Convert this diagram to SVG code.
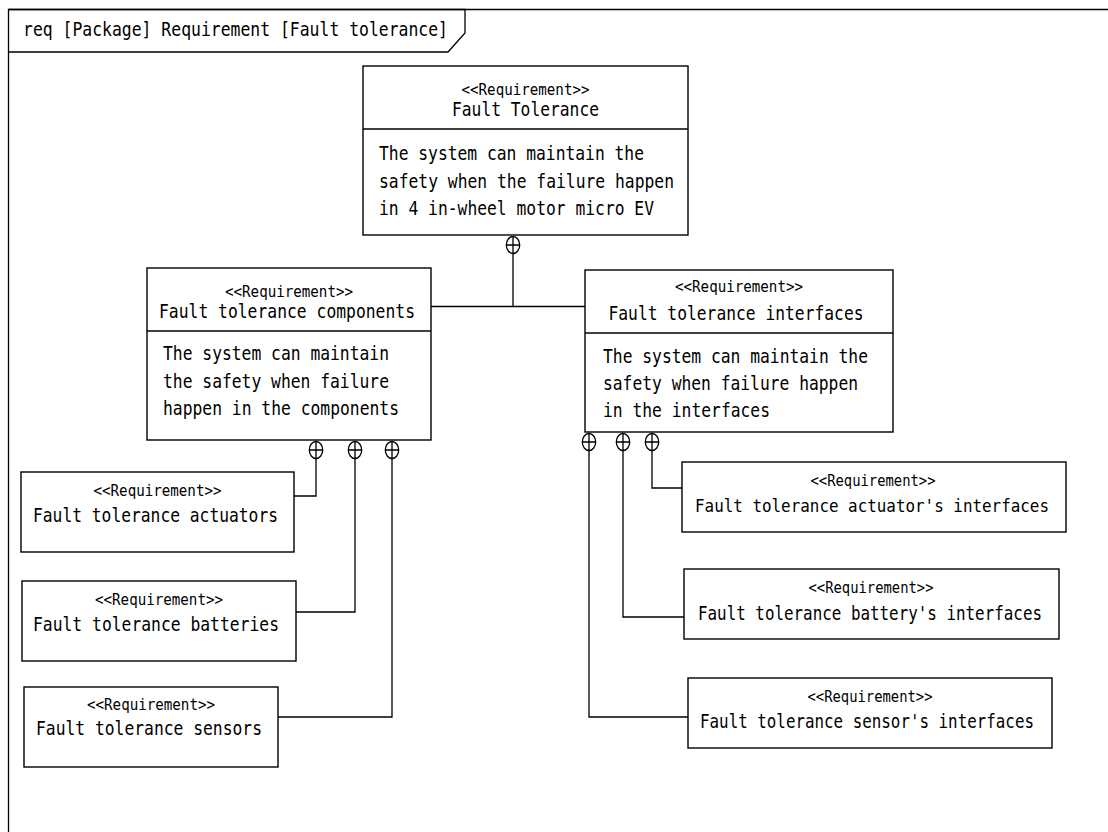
<svg xmlns="http://www.w3.org/2000/svg" width="1108" height="832" viewBox="0 0 1108 832">
<style>
.box{fill:#fff;stroke:#000;stroke-width:1.4}
.ln{fill:none;stroke:#000;stroke-width:1.3}
.t{font-family:"DejaVu Sans Mono","Liberation Mono",monospace;font-size:19px;fill:#000}
.s{font-family:"DejaVu Sans Mono","Liberation Mono",monospace;font-size:16.5px;fill:#000}
.c{text-anchor:middle}
</style>
<defs>
<g id="cc"><ellipse cx="0" cy="0" rx="6.7" ry="8.5" fill="#fff" stroke="#000" stroke-width="1.3"/><path d="M0,-8.5V8.5M-6.7,0H6.7" stroke="#000" stroke-width="1.3"/></g>
</defs>
<rect width="1108" height="832" fill="#fff"/>
<g id="frame">
<path class="ln" d="M1108,9.5H8.5V832"/>
<path class="ln" d="M8.5,9.5H465V33L448,52H8.5"/>
<text class="t" x="23" y="36" textLength="425" lengthAdjust="spacingAndGlyphs">req [Package] Requirement [Fault tolerance]</text>
</g>
<g id="connectors">
<path class="ln" d="M513,254V306.5M431,306.5H585"/>
<path class="ln" d="M316,458V496H294"/>
<path class="ln" d="M355,458V612H296"/>
<path class="ln" d="M392,458V717H278"/>
<path class="ln" d="M652,450V488H682"/>
<path class="ln" d="M623,450V617H684"/>
<path class="ln" d="M589,450V717H688"/>
<use href="#cc" x="513" y="245"/>
<use href="#cc" x="316" y="450"/>
<use href="#cc" x="355" y="450"/>
<use href="#cc" x="392" y="450"/>
<use href="#cc" x="589" y="442"/>
<use href="#cc" x="623" y="442"/>
<use href="#cc" x="652" y="442"/>
</g>
<g id="fault-tolerance">
<rect class="box" x="363" y="66" width="325" height="169"/>
<path class="ln" d="M363,129H688"/>
<text class="s c" x="525.5" y="95" textLength="128" lengthAdjust="spacingAndGlyphs">&lt;&lt;Requirement&gt;&gt;</text>
<text class="t c" x="525.5" y="116" textLength="147" lengthAdjust="spacingAndGlyphs">Fault Tolerance</text>
<text class="t" x="379" y="160" textLength="265" lengthAdjust="spacingAndGlyphs">The system can maintain the</text>
<text class="t" x="379" y="187.5" textLength="295" lengthAdjust="spacingAndGlyphs">safety when the failure happen</text>
<text class="t" x="379" y="215" textLength="275" lengthAdjust="spacingAndGlyphs">in 4 in-wheel motor micro EV</text>
</g>
<g id="ft-components">
<rect class="box" x="147" y="268" width="284" height="172"/>
<path class="ln" d="M147,331H431"/>
<text class="s c" x="289" y="297" textLength="128" lengthAdjust="spacingAndGlyphs">&lt;&lt;Requirement&gt;&gt;</text>
<text class="t c" x="287" y="318" textLength="256" lengthAdjust="spacingAndGlyphs">Fault tolerance components</text>
<text class="t" x="163" y="360" textLength="226" lengthAdjust="spacingAndGlyphs">The system can maintain</text>
<text class="t" x="163" y="388" textLength="226" lengthAdjust="spacingAndGlyphs">the safety when failure</text>
<text class="t" x="163" y="415" textLength="236" lengthAdjust="spacingAndGlyphs">happen in the components</text>
</g>
<g id="ft-interfaces">
<rect class="box" x="585" y="270" width="308" height="162"/>
<path class="ln" d="M585,333H893"/>
<text class="s c" x="739" y="292" textLength="128" lengthAdjust="spacingAndGlyphs">&lt;&lt;Requirement&gt;&gt;</text>
<text class="t c" x="736" y="320" textLength="255" lengthAdjust="spacingAndGlyphs">Fault tolerance interfaces</text>
<text class="t" x="603" y="363" textLength="265" lengthAdjust="spacingAndGlyphs">The system can maintain the</text>
<text class="t" x="603" y="390" textLength="255" lengthAdjust="spacingAndGlyphs">safety when failure happen</text>
<text class="t" x="603" y="417" textLength="167" lengthAdjust="spacingAndGlyphs">in the interfaces</text>
</g>
<g id="ft-actuators">
<rect class="box" x="21" y="472" width="273" height="80"/>
<text class="s c" x="157.5" y="496" textLength="128" lengthAdjust="spacingAndGlyphs">&lt;&lt;Requirement&gt;&gt;</text>
<text class="t c" x="155.5" y="522" textLength="245" lengthAdjust="spacingAndGlyphs">Fault tolerance actuators</text>
</g>
<g id="ft-batteries">
<rect class="box" x="22" y="581" width="274" height="80"/>
<text class="s c" x="159" y="605" textLength="128" lengthAdjust="spacingAndGlyphs">&lt;&lt;Requirement&gt;&gt;</text>
<text class="t c" x="156" y="631" textLength="246" lengthAdjust="spacingAndGlyphs">Fault tolerance batteries</text>
</g>
<g id="ft-sensors">
<rect class="box" x="24" y="687" width="254" height="80"/>
<text class="s c" x="151" y="710" textLength="128" lengthAdjust="spacingAndGlyphs">&lt;&lt;Requirement&gt;&gt;</text>
<text class="t c" x="149" y="735" textLength="226" lengthAdjust="spacingAndGlyphs">Fault tolerance sensors</text>
</g>
<g id="ft-actuator-interfaces">
<rect class="box" x="682" y="462" width="384" height="70"/>
<text class="s c" x="873" y="486" textLength="125" lengthAdjust="spacingAndGlyphs">&lt;&lt;Requirement&gt;&gt;</text>
<text class="t c" x="872" y="512" textLength="354" lengthAdjust="spacingAndGlyphs" style="font-size:18px">Fault tolerance actuator's interfaces</text>
</g>
<g id="ft-battery-interfaces">
<rect class="box" x="684" y="569" width="375" height="70"/>
<text class="s c" x="871" y="593" textLength="125" lengthAdjust="spacingAndGlyphs">&lt;&lt;Requirement&gt;&gt;</text>
<text class="t c" x="870" y="620" textLength="344" lengthAdjust="spacingAndGlyphs">Fault tolerance battery's interfaces</text>
</g>
<g id="ft-sensor-interfaces">
<rect class="box" x="688" y="678" width="364" height="70"/>
<text class="s c" x="870" y="702" textLength="125" lengthAdjust="spacingAndGlyphs">&lt;&lt;Requirement&gt;&gt;</text>
<text class="t c" x="867" y="728" textLength="334" lengthAdjust="spacingAndGlyphs">Fault tolerance sensor's interfaces</text>
</g>
</svg>
